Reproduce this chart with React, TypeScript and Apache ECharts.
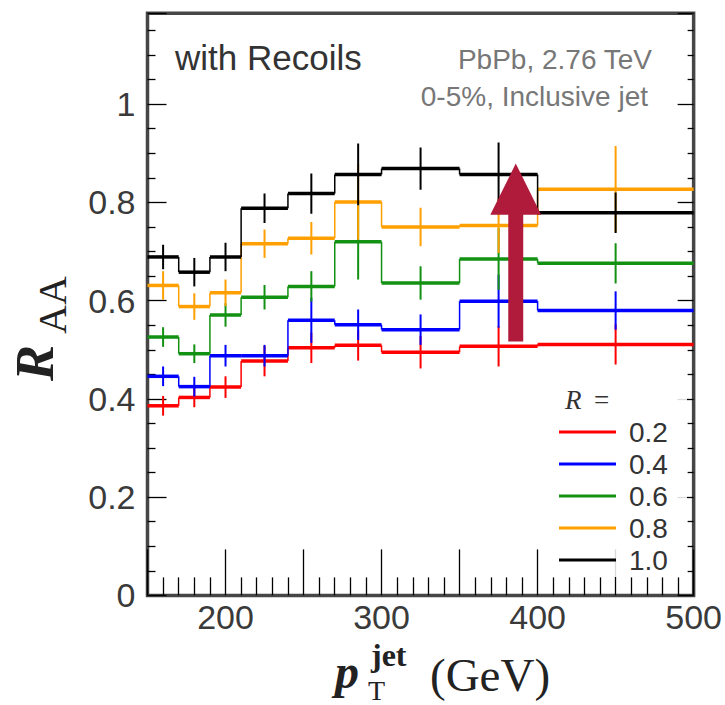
import React, { useEffect, useRef } from 'react';
import * as echarts from 'echarts';

// ---- data ----
const binEdges = [150, 170, 190, 210, 240, 270, 300, 350, 400, 500];
const radii = ['0.2', '0.4', '0.6', '0.8', '1.0'];
const raaR02 = [0.386, 0.403, 0.424, 0.477, 0.504, 0.509, 0.495, 0.507, 0.511];
const raaR04 = [0.446, 0.425, 0.488, 0.488, 0.560, 0.551, 0.541, 0.599, 0.580];
const raaR06 = [0.526, 0.492, 0.571, 0.607, 0.629, 0.720, 0.636, 0.685, 0.676];
const raaR08 = [0.631, 0.588, 0.616, 0.716, 0.727, 0.801, 0.750, 0.753, 0.827];
const raaR10 = [0.689, 0.658, 0.689, 0.788, 0.818, 0.857, 0.869, 0.857, 0.779];
const errR02 = [0.020, 0.020, 0.022, 0.031, 0.031, 0.031, 0.033, 0.041, 0.041];
const errR04 = [0.020, 0.020, 0.022, 0.022, 0.046, 0.031, 0.031, 0.054, 0.039];
const errR06 = [0.020, 0.019, 0.024, 0.025, 0.031, 0.077, 0.034, 0.063, 0.041];
const errR08 = [0.029, 0.027, 0.027, 0.029, 0.033, 0.077, 0.039, 0.056, 0.088];
const errR10 = [0.025, 0.029, 0.029, 0.030, 0.041, 0.063, 0.043, 0.065, 0.041];
const xTickLabels = [200, 300, 400, 500];
const yTickLabels = [0, 0.2, 0.4, 0.6, 0.8, 1];
// arrow annotation: [x, yBottom, yHeadBase, yTip, headHalfWidth, shaftHalfWidth] (data units)
const arrowData = [[386, 0.517, 0.775, 0.879, 16.3, 4.8]];

const seriesColors = ['#FF0000', '#0000FF', '#139113', '#FF9F00', '#000000'];
const SANS = '"Liberation Sans", Arial, Helvetica, sans-serif';
const SERIF = '"Liberation Serif", "Times New Roman", serif';

export default function App() {
  const ref = useRef<HTMLDivElement>(null);
  useEffect(() => {
    if (!ref.current) return;
    const chart = echarts.init(ref.current, null, { renderer: 'svg' });
    const values = [raaR02, raaR04, raaR06, raaR08, raaR10];
    const errors = [errR02, errR04, errR06, errR08, errR10];

    const histSeries = radii.map((name, k) => {
      const color = seriesColors[k];
      const vals = values[k];
      const errs = errors[k];
      const data = vals.map((v, i) => [binEdges[i], binEdges[i + 1], v, errs[i], i > 0 ? vals[i - 1] : v]);
      return {
        name,
        type: 'custom',
        clip: true,
        z: 2 + k * 0.1,
        itemStyle: { color },
        encode: { x: [0, 1], y: 2 },
        data,
        renderItem: (params: any, api: any) => {
          const x0 = api.value(0), x1 = api.value(1), y = api.value(2), e = api.value(3), yp = api.value(4);
          const p0 = api.coord([x0, y]);
          const p1 = api.coord([x1, y]);
          const xc = (x0 + x1) / 2;
          const pt = api.coord([xc, y + e]);
          const pb = api.coord([xc, y - e]);
          const q = api.coord([x0, yp]);
          return {
            type: 'group',
            children: [
              { type: 'line', shape: { x1: p0[0], y1: q[1], x2: p0[0], y2: p0[1] }, style: { stroke: color, lineWidth: 1.5 } },
              { type: 'line', shape: { x1: p0[0], y1: p0[1], x2: p1[0], y2: p1[1] }, style: { stroke: color, lineWidth: 3.5 } },
              { type: 'line', shape: { x1: pt[0], y1: pt[1], x2: pb[0], y2: pb[1] }, style: { stroke: color, lineWidth: 2 } },
            ],
          };
        },
      };
    });

    const arrowSeries = {
      type: 'custom',
      z: 6,
      silent: true,
      data: arrowData,
      encode: { x: 0, y: 3 },
      renderItem: (params: any, api: any) => {
        const x = api.value(0);
        const bottom = api.coord([x, api.value(1)]);
        const base = api.coord([x, api.value(2)]);
        const tip = api.coord([x, api.value(3)]);
        const hw = api.size([api.value(4), 0])[0];
        const sw = api.size([api.value(5), 0])[0];
        const cx = bottom[0];
        return {
          type: 'polygon',
          shape: {
            points: [
              [cx - sw, bottom[1]], [cx - sw, base[1]], [cx - hw, base[1]], [cx, tip[1]],
              [cx + hw, base[1]], [cx + sw, base[1]], [cx + sw, bottom[1]],
            ],
          },
          style: { fill: '#B01A3B' },
        };
      },
    };

    const yAxisBase = {
      type: 'value',
      min: 0,
      max: 1.185,
      interval: 0.2,
      splitLine: { show: false },
      axisLine: { show: false },
    };

    chart.setOption({
      animation: false,
      grid: {
        left: 147.5, right: 31, top: 13.3, bottom: 109.6,
        show: true, borderColor: '#464646', borderWidth: 3.5, backgroundColor: '#ffffff',
      },
      xAxis: {
        type: 'value',
        min: 150,
        max: 500,
        interval: 50,
        splitLine: { show: false },
        axisLine: { show: false },
        axisTick: { show: true, inside: true, length: 46, lineStyle: { color: '#000', width: 1.3 } },
        minorTick: { show: true, splitNumber: 5, length: 18, lineStyle: { color: '#000', width: 1.3 } },
        axisLabel: {
          margin: 5,
          fontSize: 34,
          fontFamily: SANS,
          color: '#3a3a3a',
          formatter: (v: number) => (xTickLabels.indexOf(Math.round(v)) >= 0 ? String(Math.round(v)) : ''),
        },
      },
      yAxis: [
        {
          ...yAxisBase,
          position: 'left',
          axisTick: { show: true, inside: true, length: 19, lineStyle: { color: '#000', width: 1.3 } },
          minorTick: { show: true, splitNumber: 4, length: 8, lineStyle: { color: '#000', width: 1.3 } },
          axisLabel: {
            margin: 12,
            fontSize: 34,
            fontFamily: SANS,
            color: '#3a3a3a',
            formatter: (v: number) => {
              const r = Math.round(v * 10) / 10;
              return yTickLabels.some((t) => Math.abs(t - v) < 1e-6) ? String(r) : '';
            },
          },
        },
        {
          ...yAxisBase,
          position: 'right',
          axisTick: { show: true, inside: true, length: 16, lineStyle: { color: '#000', width: 1.3 } },
          minorTick: { show: true, splitNumber: 4, length: 6, lineStyle: { color: '#000', width: 1.3 } },
          axisLabel: { show: false },
        },
      ],
      legend: {
        data: radii.map((name) => ({ name, icon: 'rect' })),
        orient: 'vertical',
        left: 559,
        top: 418,
        itemWidth: 57,
        itemHeight: 3,
        itemGap: 4,
        padding: 0,
        selectedMode: false,
        z: 5,
        textStyle: { fontSize: 28, color: '#333', fontFamily: SANS, padding: [0, 0, 0, 8] },
      },
      graphic: [
        { type: 'rect', z: 3, shape: { x: 550, y: 380, width: 137, height: 197 }, style: { fill: 'rgba(255,255,255,0.85)' } },
        { type: 'text', z: 10, x: 175, y: 57.4, style: { text: 'with Recoils', fontSize: 35, fontFamily: SANS, fill: '#333', align: 'left', verticalAlign: 'middle' } },
        { type: 'text', z: 10, x: 652, y: 59.5, style: { text: 'PbPb, 2.76 TeV', fontSize: 28, fontFamily: SANS, fill: '#777', align: 'right', verticalAlign: 'middle' } },
        { type: 'text', z: 10, x: 648, y: 96.8, style: { text: '0-5%, Inclusive jet', fontSize: 28, fontFamily: SANS, fill: '#777', align: 'right', verticalAlign: 'middle' } },
        { type: 'text', z: 10, x: 565, y: 400, style: { text: 'R', fontSize: 27, fontFamily: SERIF, fontStyle: 'italic', fill: '#333', align: 'left', verticalAlign: 'middle' } },
        { type: 'text', z: 10, x: 594, y: 400, style: { text: '=', fontSize: 27, fontFamily: SERIF, fill: '#333', align: 'left', verticalAlign: 'middle' } },
        // y axis title R_AA (rotated)
        { type: 'text', z: 10, x: 35, y: 381, rotation: Math.PI / 2, style: { text: 'R', fontSize: 54, fontFamily: SERIF, fontStyle: 'italic', fontWeight: 'bold', fill: '#222', align: 'left', verticalAlign: 'middle' } },
        { type: 'text', z: 10, x: 52, y: 334, rotation: Math.PI / 2, style: { text: 'AA', fontSize: 40, fontFamily: SERIF, fill: '#222', align: 'left', verticalAlign: 'middle' } },
        // x axis title p_T^jet (GeV)
        { type: 'text', z: 10, x: 335, y: 671, style: { text: 'p', fontSize: 48, fontFamily: SERIF, fontStyle: 'italic', fontWeight: 'bold', fill: '#222', align: 'left', verticalAlign: 'middle' } },
        { type: 'text', z: 10, x: 371, y: 655, style: { text: 'jet', fontSize: 32, fontFamily: SERIF, fontWeight: 'bold', fill: '#222', align: 'left', verticalAlign: 'middle' } },
        { type: 'text', z: 10, x: 368, y: 690, style: { text: 'T', fontSize: 28, fontFamily: SERIF, fill: '#222', align: 'left', verticalAlign: 'middle' } },
        { type: 'text', z: 10, x: 430, y: 675, style: { text: '(GeV)', fontSize: 47, fontFamily: SERIF, fill: '#222', align: 'left', verticalAlign: 'middle' } },
      ],
      series: [...histSeries, arrowSeries],
    });
    return () => chart.dispose();
  }, []);
  return <div ref={ref} style={{ position: 'fixed', left: 0, top: 0, width: 725, height: 705, background: '#fff' }} />;
}
